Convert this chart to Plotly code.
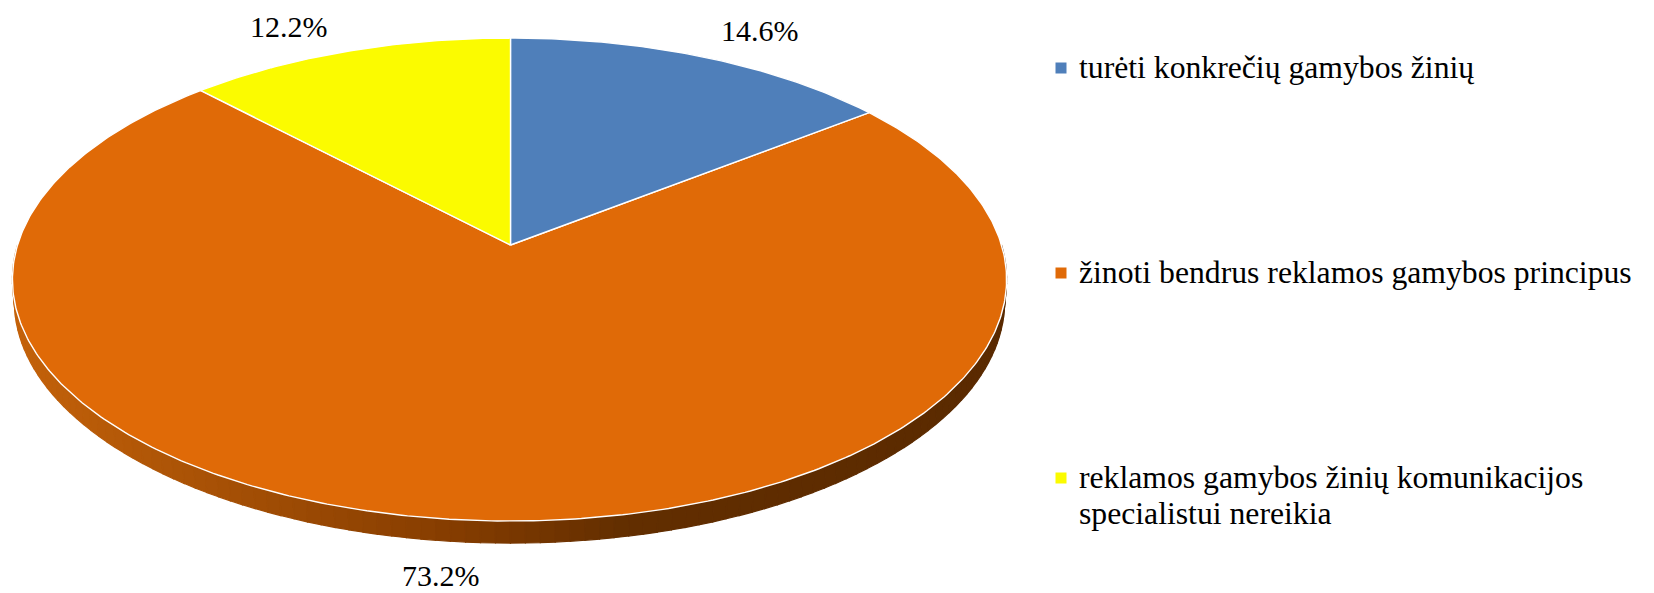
import math
import numpy as np
import plotly.graph_objects as go

categories = ["turėti konkrečių gamybos žinių",
              "žinoti bendrus reklamos gamybos principus",
              "reklamos gamybos žinių komunikacijos\nspecialistui nereikia"]
values = [14.6, 73.2, 12.2]
labels = ["14.6%", "73.2%", "12.2%"]
colors = ["#4f7fba", "#e06a07", "#fbfb00"]

# projection of the tilted disc (page pixels)
CX, CY, A, B, K = 510.5, 245.0, 491.0, 236.6, 0.1429
LEFT_STRETCH = 1.004
DEPTH, SIDE_SCALE = 22.0, 0.996
FONT = "Liberation Serif"
LABEL_POS = [(760, 30), (441, 575), (289, 26)]
LEGEND_Y = [67, 272, 477]
LINE_STEP = 36
LEGEND_MARK_X, LEGEND_TEXT_X = 1061, 1077
LEGEND_MARK_Y_SHIFT = 1


def project(theta):
    u, v = np.sin(theta), np.cos(theta)
    d = 1 + K * v
    stretch = np.where(u < 0, LEFT_STRETCH, 1.0)
    return CX + A * stretch * u / d, CY - B * v / d


def lerp_color(t):
    stops = [(0.0, (196, 98, 10)), (0.45, (132, 60, 0)), (0.62, (98, 46, 0)), (1.0, (90, 42, 0))]
    for (t0, c0), (t1, c1) in zip(stops, stops[1:]):
        if t <= t1:
            f = (t - t0) / (t1 - t0)
            return "rgb(%d,%d,%d)" % tuple(round(a + (b - a) * f) for a, b in zip(c0, c1))
    return "rgb(90,42,0)"


fig = go.Figure()

# rim of the disc, shaded from left to right
ring = np.linspace(math.radians(270), math.radians(90), 121)
for t0, t1 in zip(ring[:-1], ring[1:]):
    ts = np.linspace(t0, t1, 4)
    xs, ys = project(ts)
    bx = CX + (xs - CX) * SIDE_SCALE
    by = ys + DEPTH
    px = list(xs) + list(bx[::-1]) + [xs[0]]
    py = list(ys) + list(by[::-1]) + [ys[0]]
    col = lerp_color((xs.mean() - 13) / (1006 - 13))
    fig.add_trace(go.Scatter(x=px, y=py, mode="lines", fill="toself", fillcolor=col,
                             line=dict(color=col, width=1.2), hoverinfo="skip", showlegend=False))

# slices
fractions = np.cumsum([0] + values) / sum(values)
order = [1, 0, 2]
for i in order:
    ts = 2 * np.pi * np.linspace(fractions[i], fractions[i + 1], max(8, int(values[i] * 6)))
    xs, ys = project(ts)
    fig.add_trace(go.Scatter(x=[CX] + list(xs) + [CX], y=[CY] + list(ys) + [CY], mode="lines",
                             fill="toself", fillcolor=colors[i], name=labels[i],
                             line=dict(color="white", width=1.4), hoverinfo="skip", showlegend=False))

annotations = []
for lab, (lx, ly) in zip(labels, LABEL_POS):
    annotations.append(dict(x=lx, y=ly, text=lab, showarrow=False, xanchor="center", yanchor="middle",
                            font=dict(family=FONT, size=30, color="black")))

# key
for cat, col, ly in zip(categories, colors, LEGEND_Y):
    fig.add_trace(go.Scatter(x=[LEGEND_MARK_X], y=[ly + LEGEND_MARK_Y_SHIFT], mode="markers",
                             showlegend=False, hoverinfo="skip",
                             marker=dict(symbol="square", size=11, color=col, line=dict(width=0))))
    for j, part in enumerate(cat.split("\n")):
        annotations.append(dict(x=LEGEND_TEXT_X, y=ly + j * LINE_STEP, text=part, showarrow=False,
                                xanchor="left", yanchor="middle",
                                font=dict(family=FONT, size=31.7, color="black")))

fig.update_layout(
    width=1654, height=593, autosize=False,
    margin=dict(l=0, r=0, t=0, b=0),
    paper_bgcolor="white", plot_bgcolor="white",
    showlegend=False,
    xaxis=dict(range=[0, 1654], visible=False, fixedrange=True),
    yaxis=dict(range=[593, 0], visible=False, fixedrange=True),
    annotations=annotations,
)
fig.write_html("out.html", config=dict(displayModeBar=False),
               default_width="1654px", default_height="593px",
               post_script="document.body.style.margin='0';document.documentElement.style.overflow='hidden';window.dispatchEvent(new Event('resize'));")
